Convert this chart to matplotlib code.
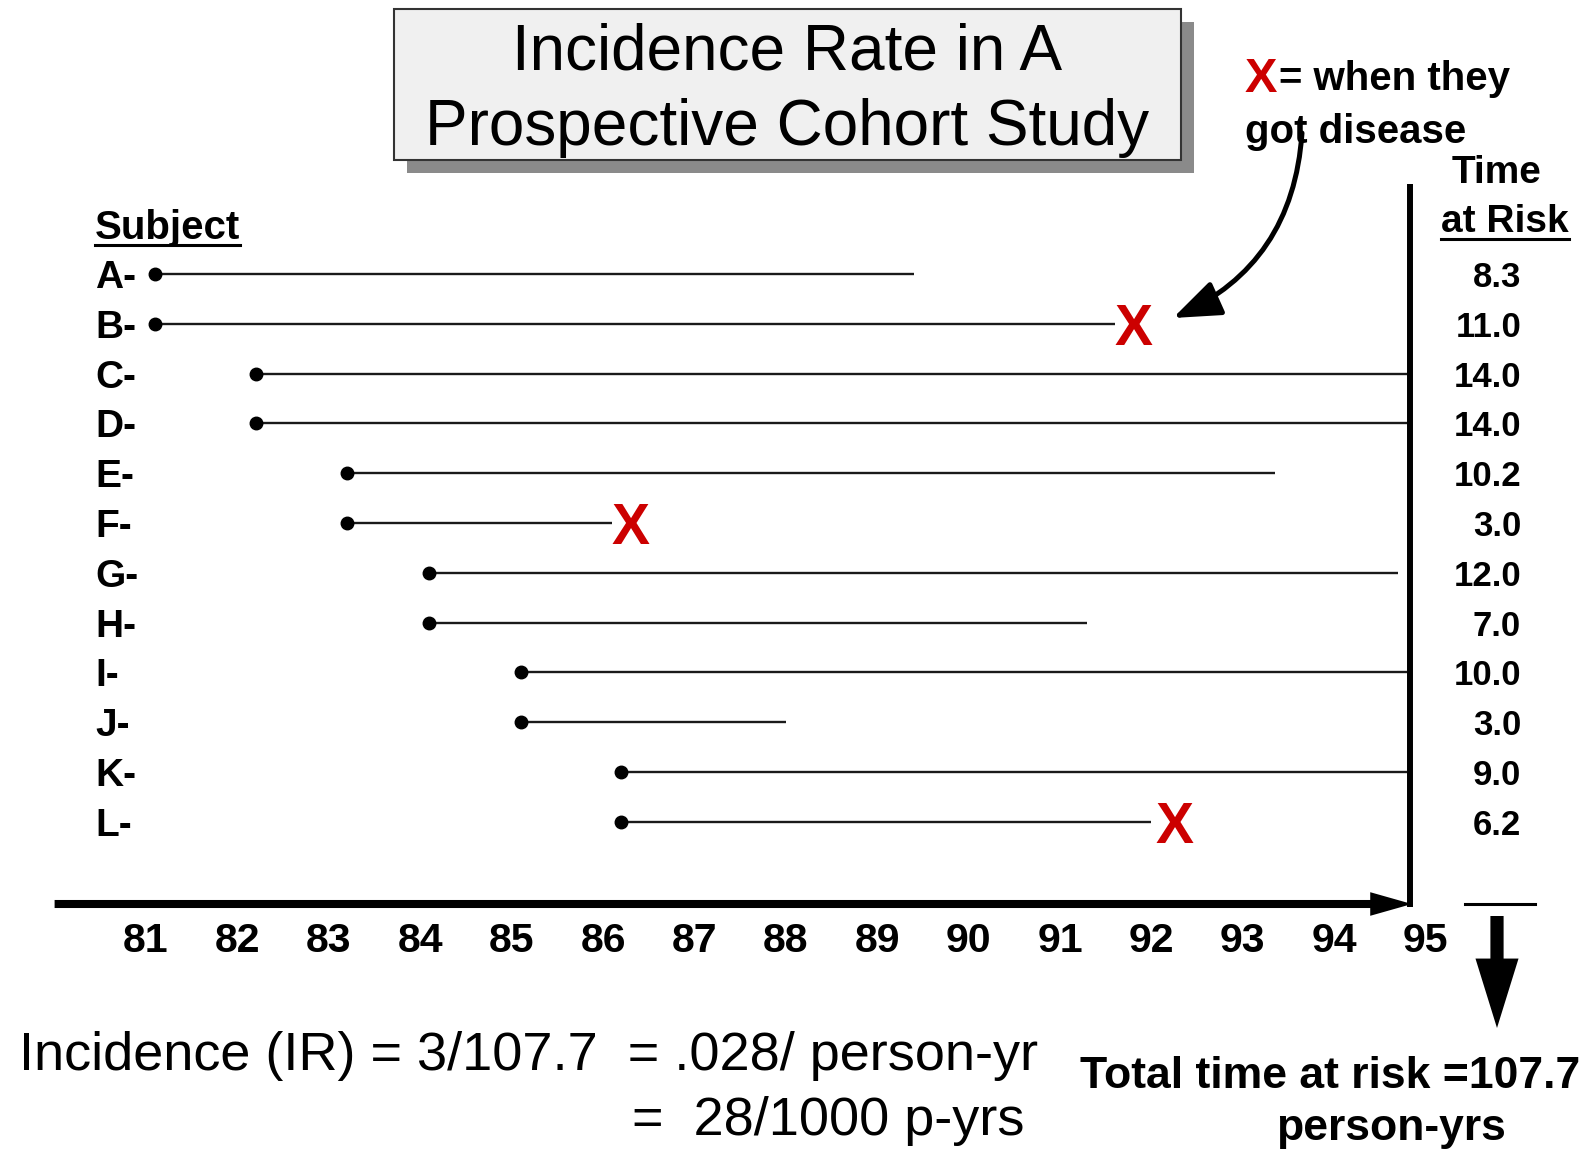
import matplotlib.pyplot as plt
from matplotlib.patches import Rectangle, FancyArrowPatch
from matplotlib.lines import Line2D

plt.rcParams['font.family'] = ['Liberation Sans', 'DejaVu Sans']

# data
subjects = ["A", "B", "C", "D", "E", "F", "G", "H", "I", "J", "K", "L"]
start_year = [81.1, 81.1, 82.2, 82.2, 83.2, 83.2, 84.1, 84.1, 85.1, 85.1, 86.2, 86.2]
end_year = [89.4, 91.6, 94.8, 94.8, 93.35, 86.1, 94.7, 91.3, 94.8, 88.0, 94.8, 92.0]
time_at_risk = ["8.3", "11.0", "14.0", "14.0", "10.2", "3.0", "12.0", "7.0", "10.0", "3.0", "9.0", "6.2"]
disease_subjects = ["B", "F", "L"]
disease_year = [91.8, 86.3, 92.25]
years = list(range(81, 96))
total_risk = "107.7"

W, H = 1583, 1152
RED = "#cc0000"


def fx(px):
    return px / W


def fy(px):
    return 1 - px / H


fig = plt.figure(figsize=(W / 100, H / 100), dpi=100)
ax = fig.add_axes([0, 0, 1, 1])
ax.axis("off")
# year scale: 81 -> 146px, 91.4 px per year ; rows: A -> 274px, 49.8 px per row
ax.set_xlim(81 - 146 / 91.4, 81 + (W - 146) / 91.4)
ax.set_ylim((H - 274) / 49.8, -274 / 49.8)

xt = ax.get_xaxis_transform()   # x data, y figure fraction
yt = ax.get_yaxis_transform()   # x figure fraction, y data

# follow-up lines
for i, s in enumerate(subjects):
    ax.plot([start_year[i], end_year[i]], [i, i], color="#1a1a1a", lw=1.7,
            solid_capstyle="butt", zorder=2)
    ax.plot(start_year[i], i, "o", color="black", ms=9, zorder=3)
    ax.text(fx(95), i, s + "-", transform=yt, fontsize=28, fontweight="bold",
            ha="left", va="center_baseline")
    ax.text(fx(1521), i, time_at_risk[i], transform=yt, fontsize=25,
            fontweight="bold", ha="right", va="center_baseline")

for s, yr in zip(disease_subjects, disease_year):
    ax.text(yr, subjects.index(s), "X", color=RED, fontsize=41, fontweight="bold",
            ha="center", va="center_baseline", zorder=4)

# time axis
ax.add_patch(FancyArrowPatch((80.0, fy(904)), (94.85, fy(904)), transform=xt,
                             arrowstyle="simple,head_length=30,head_width=17,tail_width=5.8",
                             mutation_scale=1, shrinkA=0, shrinkB=0,
                             color="black", lw=0))
ax.plot([94.83, 94.83], [fy(184), fy(907)], transform=xt, color="black", lw=4.3,
        solid_capstyle="butt")
for yr in years:
    ax.text(yr, fy(952), str(yr), transform=xt, fontsize=29.5, fontweight="bold",
            ha="center", va="baseline")

# title box with shadow
fig.add_artist(Rectangle((fx(407), fy(173)), fx(1181) - fx(394), fy(9) - fy(160),
                         transform=fig.transFigure, fc="#8a8a8a", ec="none", zorder=1))
fig.add_artist(Rectangle((fx(394), fy(160)), fx(1181) - fx(394), fy(9) - fy(160),
                         transform=fig.transFigure, fc="#f0f0f0", ec="#333333",
                         lw=1.5, zorder=2))
fig.text(fx(787), fy(70), "Incidence Rate in A", fontsize=46, ha="center",
         va="baseline", zorder=3)
fig.text(fx(787), fy(145), "Prospective Cohort Study", fontsize=46, ha="center",
         va="baseline", zorder=3)

# legend note
fig.text(fx(1245), fy(92), "X", color=RED, fontsize=35, fontweight="bold",
         ha="left", va="baseline")
fig.text(fx(1279), fy(90), "= when they", fontsize=29, fontweight="bold",
         ha="left", va="baseline")
fig.text(fx(1245), fy(143), "got disease", fontsize=29, fontweight="bold",
         ha="left", va="baseline")
fig.add_artist(FancyArrowPatch((fx(1302), fy(133)), (fx(1173), fy(318)),
                               transform=fig.transFigure,
                               connectionstyle="arc3,rad=-0.3",
                               arrowstyle="-|>,head_length=2.9,head_width=1.1",
                               mutation_scale=10, shrinkA=0, shrinkB=0,
                               color="black", lw=3.6))

# headers
t_subj = fig.text(fx(95), fy(239), "Subject", fontsize=29, fontweight="bold",
                  ha="left", va="baseline")
fig.text(fx(1497), fy(183), "Time", fontsize=28, fontweight="bold",
         ha="center", va="baseline")
t_risk = fig.text(fx(1505), fy(232), "at Risk", fontsize=28, fontweight="bold",
                  ha="center", va="baseline")

# total arrow
fig.add_artist(Line2D([fx(1465), fx(1535)], [fy(904), fy(904)], color="black", lw=2.2))
fig.add_artist(FancyArrowPatch((fx(1497), fy(916)), (fx(1497), fy(1028)),
                               transform=fig.transFigure,
                               arrowstyle="simple,head_length=5.0,head_width=3.1,tail_width=0.95",
                               mutation_scale=10, shrinkA=0, shrinkB=0,
                               color="black", lw=0))
fig.text(fx(1580), fy(1088), "Total time at risk =" + total_risk, fontsize=32,
         fontweight="bold", ha="right", va="baseline")
fig.text(fx(1391), fy(1140), "person-yrs", fontsize=32, fontweight="bold",
         ha="center", va="baseline")

# incidence formula
fig.text(fx(19), fy(1070), "Incidence (IR) = 3/" + total_risk + "  = .028/ person-yr",
         fontsize=39, ha="left", va="baseline")
fig.text(fx(632), fy(1135), "=  28/1000 p-yrs", fontsize=39, ha="left", va="baseline")

# underlines under headers
fig.canvas.draw()
r = fig.canvas.get_renderer()
for t, ypx in [(t_subj, 245), (t_risk, 239)]:
    bb = t.get_window_extent(r)
    fig.add_artist(Line2D([bb.x0 / W, bb.x1 / W], [fy(ypx), fy(ypx)],
                          color="black", lw=2.2))

fig.savefig("out.png", dpi=100)
